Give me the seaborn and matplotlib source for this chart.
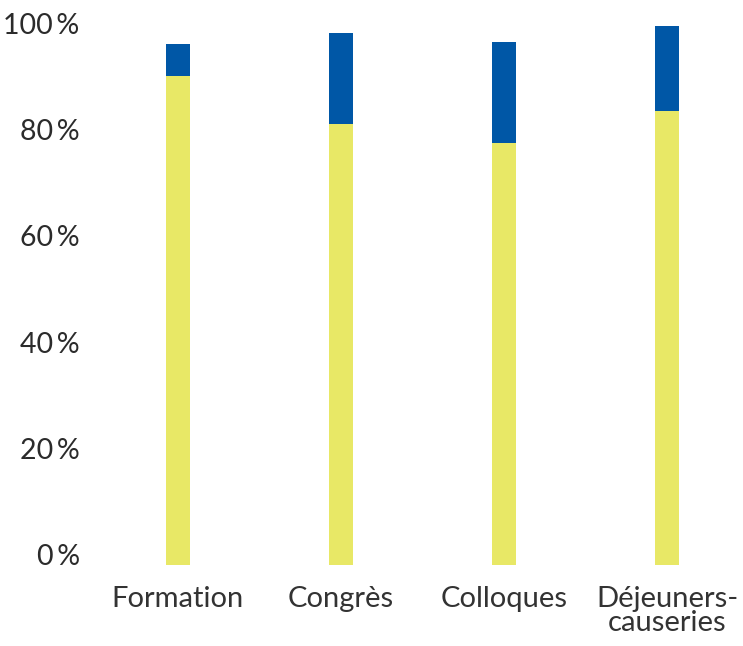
import matplotlib
matplotlib.use("Agg")
import matplotlib.pyplot as plt
import seaborn as sns
import pandas as pd

# values (percent)
categories = ["Formation", "Congrès", "Colloques", "Déjeuners-\ncauseries"]
yellow_part = [92.0, 83.0, 79.5, 85.5]
blue_part = [6.0, 17.2, 19.0, 16.0]
y_ticks = [0, 20, 40, 60, 80, 100]

df = pd.DataFrame({"category": categories, "yellow": yellow_part, "blue": blue_part})
df["total"] = df["yellow"] + df["blue"]

sns.set_style("white")
plt.rcParams["font.family"] = ["Lato", "DejaVu Sans"]

fig = plt.figure(figsize=(7.43, 6.46), dpi=100)
ax = fig.add_axes([95 / 743, 81 / 646, 648 / 743, 545 / 646])

# stacked bars: total (blue) behind, yellow share in front
sns.barplot(data=df, x="category", y="total", color="#0057A6", width=0.147,
            saturation=1, linewidth=0, ax=ax)
sns.barplot(data=df, x="category", y="yellow", color="#E8E866", width=0.147,
            saturation=1, linewidth=0, ax=ax)

ax.set_ylim(0, 102.6)
ax.set_xlim(-0.509, 3.466)
ax.set_yticks(y_ticks)
ax.set_yticklabels([f"{t}\u2009%" for t in y_ticks], fontsize=20.5,
                   color="#2b2b2b", va="baseline")
ax.set_xticks(range(len(categories)))
ax.set_xticklabels(categories, fontsize=21, color="#333333", linespacing=0.9)
ax.tick_params(axis="y", length=0, pad=11)
ax.tick_params(axis="x", length=0, pad=15)
ax.set_xlabel("")
ax.set_ylabel("")
sns.despine(ax=ax, left=True, bottom=True)

fig.savefig("out.png", dpi=100)
